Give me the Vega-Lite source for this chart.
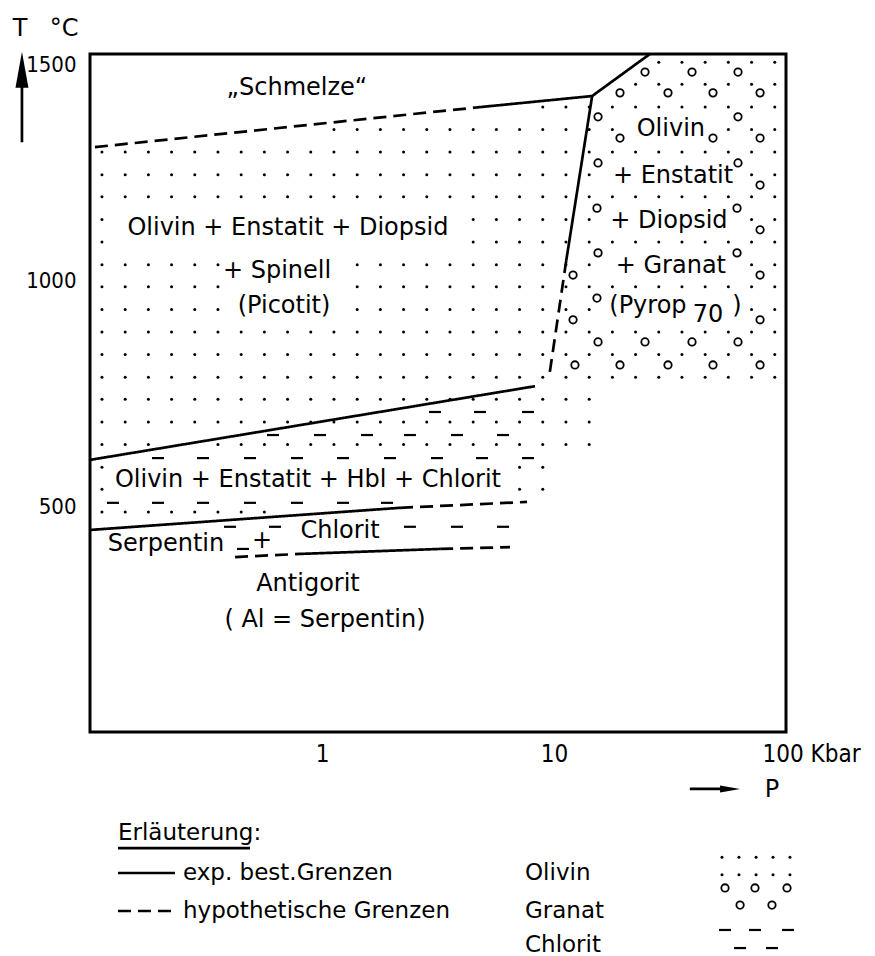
{
"$schema": "https://vega.github.io/schema/vega-lite/v6.json",
"width": 696, "height": 678,
"autosize": {"type": "none"},
"padding": {"left": 90, "top": 54, "right": 89, "bottom": 224},
"background": "white",
"config": {"view": {"stroke": "#000", "strokeWidth": 3}, "font": "DejaVu Sans"},
"datasets": {
"lines": [
{"s":"a","d":"dashed","o":1,"p":0.105,"t":1294},{"s":"a","d":"dashed","o":2,"p":4.48,"t":1381},
{"s":"b","d":"solid","o":1,"p":4.48,"t":1381},{"s":"b","d":"solid","o":2,"p":14.6,"t":1407},{"s":"b","d":"solid","o":3,"p":25.9,"t":1500},
{"s":"c","d":"solid","o":1,"p":14.6,"t":1407},{"s":"c","d":"solid","o":2,"p":11.3,"t":1044},
{"s":"e","d":"dashed","o":1,"p":11.3,"t":1044},{"s":"e","d":"dashed","o":2,"p":9.51,"t":783},
{"s":"f","d":"solid","o":1,"p":0.1,"t":602},{"s":"f","d":"solid","o":2,"p":8.28,"t":765},
{"s":"g","d":"solid","o":1,"p":0.1,"t":447},{"s":"g","d":"solid","o":2,"p":2.17,"t":496},
{"s":"h","d":"dashed","o":1,"p":2.17,"t":496},{"s":"h","d":"dashed","o":2,"p":7.65,"t":509},
{"s":"i","d":"dashed","o":1,"p":0.422,"t":387},{"s":"i","d":"dashed","o":2,"p":0.804,"t":394},
{"s":"j","d":"solid","o":1,"p":0.804,"t":394},{"s":"j","d":"solid","o":2,"p":3.23,"t":405},
{"s":"k","d":"dashed","o":1,"p":3.23,"t":405},{"s":"k","d":"dashed","o":2,"p":6.46,"t":409}
],
"rules": [
{"d":"solid","p":0.0509,"t":1305,"p2":0.0509,"t2":1430},
{"d":"solid","p":38.5,"t":-126,"p2":55,"t2":-126},
{"d":"solid","p":0.132,"t":-312,"p2":0.2325,"t2":-312},
{"d":"dashed","p":0.132,"t":-396,"p2":0.2394,"t2":-396},
{"d":"solid","p":0.132,"t":-257,"p2":0.4894,"t2":-257}
],
"uparrow": [{"p":0.0509,"t":1465}],
"rightarrow": [{"p":57.4,"t":-126}],
"labels": [
{"p":0.780,"t":1425,"label":"„Schmelze“"},
{"p":0.713,"t":1115,"label":"Olivin + Enstatit + Diopsid"},
{"p":0.640,"t":1020,"label":"+ Spinell"},
{"p":0.686,"t":942,"label":"(Picotit)"},
{"p":31.9,"t":1334,"label":"Olivin"},
{"p":32.6,"t":1230,"label":"+ Enstatit"},
{"p":31.3,"t":1131,"label":"+ Diopsid"},
{"p":31.9,"t":1031,"label":"+ Granat"},
{"p":25.4,"t":942,"label":"(Pyrop"},
{"p":46.1,"t":923,"label":"70"},
{"p":61.5,"t":942,"label":")"},
{"p":0.870,"t":558,"label":"Olivin + Enstatit + Hbl + Chlorit"},
{"p":0.2127,"t":416,"label":"Serpentin"},
{"p":0.551,"t":423,"label":"+"},
{"p":1.196,"t":445,"label":"Chlorit"},
{"p":0.870,"t":327,"label":"Antigorit"},
{"p":1.030,"t":248,"label":"( Al = Serpentin)"},
{"p":0.0499,"t":1555,"label":"T"},
{"p":0.0773,"t":1555,"label":"°C"},
{"p":87.0,"t":-128,"label":"P"}
],
"legendtext": [
{"p":0.132,"t":-223,"label":"Erläuterung:"},
{"p":0.2517,"t":-312,"label":"exp. best.Grenzen"},
{"p":0.2517,"t":-396,"label":"hypothetische Grenzen"},
{"p":7.499,"t":-312,"label":"Olivin"},
{"p":7.499,"t":-396,"label":"Granat"},
{"p":7.499,"t":-472,"label":"Chlorit"}
],
"circles": [
{"p":24.68,"t":1460},{"p":39.34,"t":1460},{"p":62.1,"t":1460},
{"p":19.25,"t":1414},{"p":31.0,"t":1414},{"p":48.45,"t":1414},{"p":77.3,"t":1414},
{"p":15.48,"t":1361},{"p":62.1,"t":1361},
{"p":19.25,"t":1314},{"p":48.45,"t":1314},{"p":77.3,"t":1314},
{"p":15.48,"t":1259},{"p":62.1,"t":1259},
{"p":77.3,"t":1210},
{"p":15.32,"t":1159},{"p":61.5,"t":1159},
{"p":77.3,"t":1111},
{"p":15.48,"t":1060},{"p":61.5,"t":1060},
{"p":12.08,"t":1011},{"p":77.3,"t":1011},
{"p":15.32,"t":960},
{"p":12.08,"t":912},{"p":77.3,"t":912},
{"p":15.48,"t":863},{"p":24.68,"t":863},{"p":39.34,"t":863},{"p":62.1,"t":863},
{"p":12.31,"t":812},{"p":19.25,"t":812},{"p":31.0,"t":812},{"p":48.45,"t":812},{"p":77.3,"t":812},
{"p":54.6,"t":-345},{"p":73.5,"t":-345},{"p":101,"t":-345},{"p":63.4,"t":-383},{"p":87,"t":-383}
],
"dashes": [
{"p":3.070,"t":708},{"p":4.798,"t":708},{"p":7.726,"t":708},
{"p":0.6149,"t":657},{"p":0.9803,"t":657},{"p":1.563,"t":657},{"p":2.394,"t":657},{"p":3.819,"t":657},{"p":6.029,"t":657},
{"p":0.1964,"t":606},{"p":0.3070,"t":606},{"p":0.4894,"t":606},{"p":0.7800,"t":606},{"p":1.232,"t":606},{"p":1.964,"t":606},{"p":3.131,"t":606},{"p":4.894,"t":606},{"p":7.726,"t":606},
{"p":0.1256,"t":507},{"p":0.1964,"t":507},{"p":0.3070,"t":507},{"p":0.4894,"t":507},{"p":0.7800,"t":507},{"p":1.232,"t":507},{"p":1.906,"t":507},
{"p":0.4013,"t":454},{"p":0.6272,"t":454},{"p":2.394,"t":454},{"p":3.819,"t":454},{"p":6.029,"t":454},
{"p":0.4564,"t":405},
{"p":54.6,"t":-438},{"p":73.5,"t":-438},{"p":102,"t":-438},{"p":63.4,"t":-478},{"p":87,"t":-478}
],
"dots": [
{"p":28.29,"t":1482},{"p":35.61,"t":1482},{"p":44.83,"t":1482},{"p":56.44,"t":1482},{"p":71.05,"t":1482},{"p":89.45,"t":1482},
{"p":22.47,"t":1433},{"p":28.29,"t":1433},{"p":35.61,"t":1433},{"p":44.83,"t":1433},{"p":56.44,"t":1433},{"p":71.05,"t":1433},{"p":89.45,"t":1433},
{"p":8.945,"t":1383},{"p":11.26,"t":1383},{"p":14.18,"t":1383},{"p":17.85,"t":1383},{"p":22.47,"t":1383},{"p":28.29,"t":1383},{"p":35.61,"t":1383},{"p":44.83,"t":1383},{"p":56.44,"t":1383},{"p":71.05,"t":1383},{"p":89.45,"t":1383},
{"p":1.126,"t":1333},{"p":1.418,"t":1333},{"p":1.785,"t":1333},{"p":2.247,"t":1333},{"p":2.829,"t":1333},{"p":3.561,"t":1333},{"p":4.483,"t":1333},{"p":5.644,"t":1333},{"p":7.105,"t":1333},{"p":8.945,"t":1333},{"p":11.26,"t":1333},{"p":14.18,"t":1333},{"p":17.85,"t":1333},{"p":56.44,"t":1333},{"p":71.05,"t":1333},{"p":89.45,"t":1333},
{"p":0.1126,"t":1283},{"p":0.1418,"t":1283},{"p":0.1785,"t":1283},{"p":0.2247,"t":1283},{"p":0.2829,"t":1283},{"p":0.3561,"t":1283},{"p":0.4483,"t":1283},{"p":0.5644,"t":1283},{"p":0.7105,"t":1283},{"p":0.8945,"t":1283},{"p":1.126,"t":1283},{"p":1.418,"t":1283},{"p":1.785,"t":1283},{"p":2.247,"t":1283},{"p":2.829,"t":1283},{"p":3.561,"t":1283},{"p":4.483,"t":1283},{"p":5.644,"t":1283},{"p":7.105,"t":1283},{"p":8.945,"t":1283},{"p":11.26,"t":1283},{"p":14.18,"t":1283},{"p":17.85,"t":1283},{"p":22.47,"t":1283},{"p":28.29,"t":1283},{"p":35.61,"t":1283},{"p":44.83,"t":1283},{"p":56.44,"t":1283},{"p":71.05,"t":1283},{"p":89.45,"t":1283},
{"p":0.1126,"t":1233},{"p":0.1418,"t":1233},{"p":0.1785,"t":1233},{"p":0.2247,"t":1233},{"p":0.2829,"t":1233},{"p":0.3561,"t":1233},{"p":0.4483,"t":1233},{"p":0.5644,"t":1233},{"p":0.7105,"t":1233},{"p":0.8945,"t":1233},{"p":1.126,"t":1233},{"p":1.418,"t":1233},{"p":1.785,"t":1233},{"p":2.247,"t":1233},{"p":2.829,"t":1233},{"p":3.561,"t":1233},{"p":4.483,"t":1233},{"p":5.644,"t":1233},{"p":7.105,"t":1233},{"p":8.945,"t":1233},{"p":11.26,"t":1233},{"p":14.18,"t":1233},{"p":71.05,"t":1233},{"p":89.45,"t":1233},
{"p":0.1126,"t":1184},{"p":0.1418,"t":1184},{"p":0.1785,"t":1184},{"p":0.2247,"t":1184},{"p":0.2829,"t":1184},{"p":0.3561,"t":1184},{"p":0.4483,"t":1184},{"p":0.5644,"t":1184},{"p":0.7105,"t":1184},{"p":0.8945,"t":1184},{"p":1.126,"t":1184},{"p":1.418,"t":1184},{"p":1.785,"t":1184},{"p":2.247,"t":1184},{"p":2.829,"t":1184},{"p":3.561,"t":1184},{"p":4.483,"t":1184},{"p":5.644,"t":1184},{"p":7.105,"t":1184},{"p":8.945,"t":1184},{"p":11.26,"t":1184},{"p":14.18,"t":1184},{"p":17.85,"t":1184},{"p":22.47,"t":1184},{"p":28.29,"t":1184},{"p":35.61,"t":1184},{"p":44.83,"t":1184},{"p":56.44,"t":1184},{"p":71.05,"t":1184},{"p":89.45,"t":1184},
{"p":0.1126,"t":1134},{"p":4.483,"t":1134},{"p":5.644,"t":1134},{"p":7.105,"t":1134},{"p":8.945,"t":1134},{"p":11.26,"t":1134},{"p":14.18,"t":1134},{"p":71.05,"t":1134},{"p":89.45,"t":1134},
{"p":0.1126,"t":1084},{"p":4.483,"t":1084},{"p":5.644,"t":1084},{"p":7.105,"t":1084},{"p":8.945,"t":1084},{"p":11.26,"t":1084},{"p":14.18,"t":1084},{"p":17.85,"t":1084},{"p":22.47,"t":1084},{"p":28.29,"t":1084},{"p":35.61,"t":1084},{"p":44.83,"t":1084},{"p":56.44,"t":1084},{"p":71.05,"t":1084},{"p":89.45,"t":1084},
{"p":0.1126,"t":1034},{"p":0.1418,"t":1034},{"p":0.1785,"t":1034},{"p":0.2247,"t":1034},{"p":0.2829,"t":1034},{"p":0.3561,"t":1034},{"p":1.418,"t":1034},{"p":1.785,"t":1034},{"p":2.247,"t":1034},{"p":2.829,"t":1034},{"p":3.561,"t":1034},{"p":4.483,"t":1034},{"p":5.644,"t":1034},{"p":7.105,"t":1034},{"p":8.945,"t":1034},{"p":11.26,"t":1034},{"p":14.18,"t":1034},{"p":71.05,"t":1034},{"p":89.45,"t":1034},
{"p":0.1126,"t":985},{"p":0.1418,"t":985},{"p":0.1785,"t":985},{"p":0.2247,"t":985},{"p":0.2829,"t":985},{"p":0.3561,"t":985},{"p":1.418,"t":985},{"p":1.785,"t":985},{"p":2.247,"t":985},{"p":2.829,"t":985},{"p":3.561,"t":985},{"p":4.483,"t":985},{"p":5.644,"t":985},{"p":7.105,"t":985},{"p":8.945,"t":985},{"p":11.26,"t":985},{"p":14.18,"t":985},{"p":17.85,"t":985},{"p":22.47,"t":985},{"p":28.29,"t":985},{"p":35.61,"t":985},{"p":44.83,"t":985},{"p":56.44,"t":985},{"p":71.05,"t":985},{"p":89.45,"t":985},
{"p":0.1126,"t":935},{"p":0.1418,"t":935},{"p":0.1785,"t":935},{"p":0.2247,"t":935},{"p":0.2829,"t":935},{"p":0.3561,"t":935},{"p":1.418,"t":935},{"p":1.785,"t":935},{"p":2.247,"t":935},{"p":2.829,"t":935},{"p":3.561,"t":935},{"p":4.483,"t":935},{"p":5.644,"t":935},{"p":7.105,"t":935},{"p":8.945,"t":935},{"p":11.26,"t":935},{"p":14.18,"t":935},{"p":71.05,"t":935},{"p":89.45,"t":935},
{"p":0.1126,"t":885},{"p":0.1418,"t":885},{"p":0.1785,"t":885},{"p":0.2247,"t":885},{"p":0.2829,"t":885},{"p":0.3561,"t":885},{"p":0.4483,"t":885},{"p":0.5644,"t":885},{"p":0.7105,"t":885},{"p":0.8945,"t":885},{"p":1.126,"t":885},{"p":1.418,"t":885},{"p":1.785,"t":885},{"p":2.247,"t":885},{"p":2.829,"t":885},{"p":3.561,"t":885},{"p":4.483,"t":885},{"p":5.644,"t":885},{"p":7.105,"t":885},{"p":8.945,"t":885},{"p":11.26,"t":885},{"p":14.18,"t":885},{"p":17.85,"t":885},{"p":22.47,"t":885},{"p":28.29,"t":885},{"p":35.61,"t":885},{"p":44.83,"t":885},{"p":56.44,"t":885},{"p":71.05,"t":885},{"p":89.45,"t":885},
{"p":0.1126,"t":835},{"p":0.1418,"t":835},{"p":0.1785,"t":835},{"p":0.2247,"t":835},{"p":0.2829,"t":835},{"p":0.3561,"t":835},{"p":0.4483,"t":835},{"p":0.5644,"t":835},{"p":0.7105,"t":835},{"p":0.8945,"t":835},{"p":1.126,"t":835},{"p":1.418,"t":835},{"p":1.785,"t":835},{"p":2.247,"t":835},{"p":2.829,"t":835},{"p":3.561,"t":835},{"p":4.483,"t":835},{"p":5.644,"t":835},{"p":7.105,"t":835},{"p":8.945,"t":835},{"p":11.26,"t":835},{"p":14.18,"t":835},{"p":17.85,"t":835},{"p":22.47,"t":835},{"p":28.29,"t":835},{"p":35.61,"t":835},{"p":44.83,"t":835},{"p":56.44,"t":835},{"p":71.05,"t":835},{"p":89.45,"t":835},
{"p":0.1126,"t":785},{"p":0.1418,"t":785},{"p":0.1785,"t":785},{"p":0.2247,"t":785},{"p":0.2829,"t":785},{"p":0.3561,"t":785},{"p":0.4483,"t":785},{"p":0.5644,"t":785},{"p":0.7105,"t":785},{"p":0.8945,"t":785},{"p":1.126,"t":785},{"p":1.418,"t":785},{"p":1.785,"t":785},{"p":2.247,"t":785},{"p":2.829,"t":785},{"p":3.561,"t":785},{"p":4.483,"t":785},{"p":5.644,"t":785},{"p":7.105,"t":785},{"p":8.945,"t":785},{"p":11.26,"t":785},{"p":14.18,"t":785},{"p":17.85,"t":785},{"p":22.47,"t":785},{"p":28.29,"t":785},{"p":35.61,"t":785},{"p":44.83,"t":785},{"p":56.44,"t":785},{"p":71.05,"t":785},{"p":89.45,"t":785},
{"p":0.1126,"t":736},{"p":0.1418,"t":736},{"p":0.1785,"t":736},{"p":0.2247,"t":736},{"p":0.2829,"t":736},{"p":0.3561,"t":736},{"p":0.4483,"t":736},{"p":0.5644,"t":736},{"p":0.7105,"t":736},{"p":0.8945,"t":736},{"p":1.126,"t":736},{"p":1.418,"t":736},{"p":1.785,"t":736},{"p":2.247,"t":736},{"p":2.829,"t":736},{"p":3.561,"t":736},{"p":4.483,"t":736},{"p":5.644,"t":736},{"p":7.105,"t":736},{"p":8.945,"t":736},{"p":11.26,"t":736},{"p":14.18,"t":736},
{"p":0.1126,"t":686},{"p":0.1418,"t":686},{"p":0.1785,"t":686},{"p":0.2247,"t":686},{"p":0.2829,"t":686},{"p":0.3561,"t":686},{"p":0.4483,"t":686},{"p":0.5644,"t":686},{"p":0.7105,"t":686},{"p":0.8945,"t":686},{"p":1.126,"t":686},{"p":1.418,"t":686},{"p":1.785,"t":686},{"p":2.247,"t":686},{"p":2.829,"t":686},{"p":3.561,"t":686},{"p":4.483,"t":686},{"p":5.644,"t":686},{"p":7.105,"t":686},{"p":8.945,"t":686},{"p":11.26,"t":686},{"p":14.18,"t":686},
{"p":0.1126,"t":636},{"p":0.1418,"t":636},{"p":0.1785,"t":636},{"p":0.3561,"t":636},{"p":0.4483,"t":636},{"p":0.5644,"t":636},{"p":0.7105,"t":636},{"p":0.8945,"t":636},{"p":1.126,"t":636},{"p":1.418,"t":636},{"p":1.785,"t":636},{"p":2.247,"t":636},{"p":2.829,"t":636},{"p":3.561,"t":636},{"p":4.483,"t":636},{"p":5.644,"t":636},{"p":7.105,"t":636},{"p":8.945,"t":636},{"p":11.26,"t":636},{"p":14.18,"t":636},
{"p":0.1126,"t":586},{"p":7.105,"t":586},{"p":8.945,"t":586},
{"p":0.1126,"t":537},{"p":7.105,"t":537},{"p":8.945,"t":537},
{"p":0.1126,"t":487},{"p":0.1418,"t":487},{"p":0.1785,"t":487},{"p":0.2247,"t":487},{"p":0.2829,"t":487},{"p":0.3561,"t":487},{"p":0.4483,"t":487},{"p":0.5644,"t":487},
{"p":52.98,"t":-277},{"p":62.7,"t":-277},{"p":74.3,"t":-277},{"p":87.9,"t":-277},{"p":104.0,"t":-277},
{"p":52.98,"t":-316},{"p":62.7,"t":-316},{"p":74.3,"t":-316},{"p":87.9,"t":-316},{"p":104.0,"t":-316}
]
},
"encoding": {
"x": {"field": "p", "type": "quantitative", "title": null,
 "scale": {"type": "log", "domain": [0.1, 100], "nice": false},
 "axis": {"values": [1, 10, 100], "labelExpr": "datum.value == 100 ? '100 Kbar' : (datum.value == 10 ? '10' : '1')",
  "labelFont": "DejaVu Sans Condensed", "labelFontSize": 24, "labelColor": "#000", "labelPadding": 10, "labelFlush": false,
  "labelAlign": {"condition": {"test": "datum.value == 100", "value": "left"}, "value": "center"},
  "labelOffset": {"condition": {"test": "datum.value == 100", "value": -24}, "value": 0},
  "ticks": false, "domain": false, "grid": false}},
"y": {"field": "t", "type": "quantitative", "title": null,
 "scale": {"domain": [0, 1500], "nice": false, "zero": false},
 "axis": {"values": [500, 1000, 1500], "format": "d", "labelFont": "DejaVu Sans Condensed", "labelFontSize": 22, "labelColor": "#000",
  "labelPadding": 14, "labelFlush": true, "ticks": false, "domain": false, "grid": false}}
},
"layer": [
{"data": {"name": "dots"}, "mark": {"type": "point", "filled": true, "color": "#000", "size": 9, "opacity": 1}},
{"data": {"name": "circles"}, "mark": {"type": "point", "filled": false, "color": "#000", "size": 55, "strokeWidth": 1.8, "opacity": 1}},
{"data": {"name": "dashes"}, "mark": {"type": "point", "shape": "stroke", "filled": false, "color": "#000", "size": 144, "strokeWidth": 2.2, "opacity": 1}},
{"data": {"name": "lines"}, "mark": {"type": "line", "color": "#000", "strokeWidth": 2.7, "strokeCap": "butt"},
 "encoding": {"detail": {"field": "s"}, "order": {"field": "o", "type": "quantitative"},
  "strokeDash": {"field": "d", "type": "nominal", "scale": {"domain": ["solid", "dashed"], "range": [[1, 0], [13, 7]]}, "legend": null}}},
{"data": {"name": "rules"}, "mark": {"type": "rule", "color": "#000", "strokeWidth": 2.7, "strokeCap": "butt"},
 "encoding": {"x2": {"field": "p2"}, "y2": {"field": "t2"},
  "strokeDash": {"field": "d", "type": "nominal", "scale": {"domain": ["solid", "dashed"], "range": [[1, 0], [13, 7]]}, "legend": null}}},
{"data": {"name": "uparrow"}, "mark": {"type": "point", "shape": "M0,-1L0.36,1L-0.36,1Z", "filled": true, "color": "#000", "size": 1296, "opacity": 1}},
{"data": {"name": "rightarrow"}, "mark": {"type": "point", "shape": "M1,0L-1,-0.35L-1,0.35Z", "filled": true, "color": "#000", "size": 400, "opacity": 1}},
{"data": {"name": "labels"}, "mark": {"type": "text", "font": "DejaVu Sans", "fontSize": 24, "color": "#000", "align": "center", "baseline": "middle"},
 "encoding": {"text": {"field": "label"}}},
{"data": {"name": "legendtext"}, "mark": {"type": "text", "font": "DejaVu Sans", "fontSize": 23, "color": "#000", "align": "left", "baseline": "middle"},
 "encoding": {"text": {"field": "label"}}}
]
}
